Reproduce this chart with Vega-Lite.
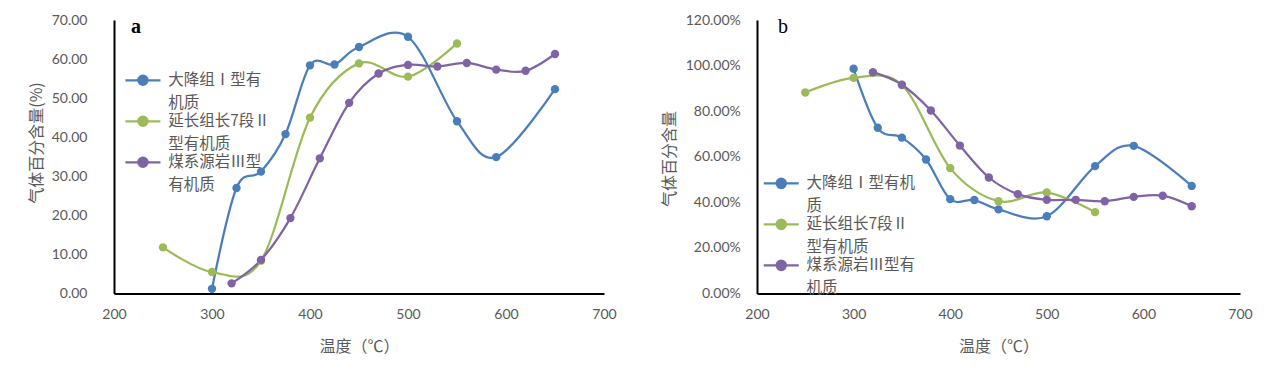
{
  "$schema": "https://vega.github.io/schema/vega-lite/v6.json",
  "background": "white",
  "padding": {"left": 27, "top": 13, "right": 5, "bottom": 5},
  "spacing": 153,
  "bounds": "flush",
  "config": {
    "view": {"stroke": null},
    "font": "Lato",
    "axis": {
      "grid": false,
      "domain": true,
      "ticks": true,
      "tickSize": 0,
      "labelFlush": false,
      "labelOverlap": false,
      "domainColor": "#000000",
      "domainWidth": 2,
      "tickColor": "#000000",
      "tickWidth": 1.5,
      "labelColor": "#595959",
      "labelFont": "Lato",
      "labelFontSize": 14,
      "titleColor": "#595959",
      "titleFont": "Noto Sans CJK SC",
      "titleFontSize": 16,
      "titleFontWeight": "normal"
    },
    "legend": {
      "orient": "none",
      "padding": 0,
      "symbolType": "M-3.5,0L3.5,0M0.93,0A0.93,0.93,0,1,1,-0.93,0A0.93,0.93,0,1,1,0.93,0Z",
      "symbolSize": 100,
      "symbolStrokeWidth": 2.25,
      "labelFont": "Noto Sans CJK SC",
      "labelFontSize": 15.5,
      "labelColor": "#595959",
      "labelOffset": 17.5,
      "rowPadding": 0
    }
  },
  "datasets": {
    "a": [
      {"T": 300, "v": 1.2, "s": "大降组Ⅰ型有机质"},
      {"T": 325, "v": 27.0, "s": "大降组Ⅰ型有机质"},
      {"T": 350, "v": 31.2, "s": "大降组Ⅰ型有机质"},
      {"T": 375, "v": 40.8, "s": "大降组Ⅰ型有机质"},
      {"T": 400, "v": 58.4, "s": "大降组Ⅰ型有机质"},
      {"T": 425, "v": 58.6, "s": "大降组Ⅰ型有机质"},
      {"T": 450, "v": 63.1, "s": "大降组Ⅰ型有机质"},
      {"T": 500, "v": 65.7, "s": "大降组Ⅰ型有机质"},
      {"T": 550, "v": 44.1, "s": "大降组Ⅰ型有机质"},
      {"T": 590, "v": 34.9, "s": "大降组Ⅰ型有机质"},
      {"T": 650, "v": 52.3, "s": "大降组Ⅰ型有机质"},
      {"T": 250, "v": 11.8, "s": "延长组长7段Ⅱ型有机质"},
      {"T": 300, "v": 5.5, "s": "延长组长7段Ⅱ型有机质"},
      {"T": 350, "v": 8.4, "s": "延长组长7段Ⅱ型有机质"},
      {"T": 400, "v": 45.0, "s": "延长组长7段Ⅱ型有机质"},
      {"T": 450, "v": 58.9, "s": "延长组长7段Ⅱ型有机质"},
      {"T": 500, "v": 55.5, "s": "延长组长7段Ⅱ型有机质"},
      {"T": 550, "v": 64.0, "s": "延长组长7段Ⅱ型有机质"},
      {"T": 320, "v": 2.6, "s": "煤系源岩Ⅲ型有机质"},
      {"T": 350, "v": 8.6, "s": "煤系源岩Ⅲ型有机质"},
      {"T": 380, "v": 19.3, "s": "煤系源岩Ⅲ型有机质"},
      {"T": 410, "v": 34.6, "s": "煤系源岩Ⅲ型有机质"},
      {"T": 440, "v": 48.8, "s": "煤系源岩Ⅲ型有机质"},
      {"T": 470, "v": 56.3, "s": "煤系源岩Ⅲ型有机质"},
      {"T": 500, "v": 58.5, "s": "煤系源岩Ⅲ型有机质"},
      {"T": 530, "v": 58.1, "s": "煤系源岩Ⅲ型有机质"},
      {"T": 560, "v": 59.0, "s": "煤系源岩Ⅲ型有机质"},
      {"T": 590, "v": 57.3, "s": "煤系源岩Ⅲ型有机质"},
      {"T": 620, "v": 57.0, "s": "煤系源岩Ⅲ型有机质"},
      {"T": 650, "v": 61.3, "s": "煤系源岩Ⅲ型有机质"}
    ],
    "b": [
      {"T": 300, "v": 0.986, "s": "大降组Ⅰ型有机质"},
      {"T": 325, "v": 0.727, "s": "大降组Ⅰ型有机质"},
      {"T": 350, "v": 0.684, "s": "大降组Ⅰ型有机质"},
      {"T": 375, "v": 0.588, "s": "大降组Ⅰ型有机质"},
      {"T": 400, "v": 0.414, "s": "大降组Ⅰ型有机质"},
      {"T": 425, "v": 0.410, "s": "大降组Ⅰ型有机质"},
      {"T": 450, "v": 0.369, "s": "大降组Ⅰ型有机质"},
      {"T": 500, "v": 0.339, "s": "大降组Ⅰ型有机质"},
      {"T": 550, "v": 0.559, "s": "大降组Ⅰ型有机质"},
      {"T": 590, "v": 0.648, "s": "大降组Ⅰ型有机质"},
      {"T": 650, "v": 0.472, "s": "大降组Ⅰ型有机质"},
      {"T": 250, "v": 0.882, "s": "延长组长7段Ⅱ型有机质"},
      {"T": 300, "v": 0.946, "s": "延长组长7段Ⅱ型有机质"},
      {"T": 350, "v": 0.915, "s": "延长组长7段Ⅱ型有机质"},
      {"T": 400, "v": 0.550, "s": "延长组长7段Ⅱ型有机质"},
      {"T": 450, "v": 0.405, "s": "延长组长7段Ⅱ型有机质"},
      {"T": 500, "v": 0.443, "s": "延长组长7段Ⅱ型有机质"},
      {"T": 550, "v": 0.357, "s": "延长组长7段Ⅱ型有机质"},
      {"T": 320, "v": 0.971, "s": "煤系源岩Ⅲ型有机质"},
      {"T": 350, "v": 0.916, "s": "煤系源岩Ⅲ型有机质"},
      {"T": 380, "v": 0.803, "s": "煤系源岩Ⅲ型有机质"},
      {"T": 410, "v": 0.649, "s": "煤系源岩Ⅲ型有机质"},
      {"T": 440, "v": 0.509, "s": "煤系源岩Ⅲ型有机质"},
      {"T": 470, "v": 0.436, "s": "煤系源岩Ⅲ型有机质"},
      {"T": 500, "v": 0.411, "s": "煤系源岩Ⅲ型有机质"},
      {"T": 530, "v": 0.411, "s": "煤系源岩Ⅲ型有机质"},
      {"T": 560, "v": 0.405, "s": "煤系源岩Ⅲ型有机质"},
      {"T": 590, "v": 0.424, "s": "煤系源岩Ⅲ型有机质"},
      {"T": 620, "v": 0.429, "s": "煤系源岩Ⅲ型有机质"},
      {"T": 650, "v": 0.383, "s": "煤系源岩Ⅲ型有机质"}
    ]
  },
  "resolve": {
    "scale": {"color": "independent", "x": "independent", "y": "independent"},
    "legend": {"color": "independent"}
  },
  "hconcat": [
    {
      "width": 490,
      "height": 273.5,
      "data": {"name": "a"},
      "title": {"text": "a", "anchor": "start", "frame": "group", "offset": -23.5, "dx": 17, "font": "Liberation Serif", "fontSize": 20, "fontWeight": "bold", "color": "#000000"},
      "mark": {"type": "line", "interpolate": "cardinal", "strokeWidth": 2.25, "point": {"filled": true, "size": 70, "opacity": 1}},
      "encoding": {
        "x": {
          "field": "T", "type": "quantitative",
          "scale": {"domain": [200, 700], "nice": false, "zero": false},
          "axis": {"values": [200, 300, 400, 500, 600, 700], "labelPadding": 14, "title": "温度（℃）", "titleBaseline": "middle", "titleY": 52.5,
                   "encode": {"ticks": {"update": {"y2": {"value": -5}}}}}
        },
        "y": {
          "field": "v", "type": "quantitative",
          "scale": {"domain": [0, 70], "nice": false},
          "axis": {"values": [0, 10, 20, 30, 40, 50, 60, 70], "format": ".2f", "labelPadding": 27, "title": "气体百分含量(%)", "titleAngle": -90, "titleBaseline": "middle", "titleAlign": "center", "titleX": -78, "titleY": 122.5,
                   "encode": {"ticks": {"update": {"x2": {"value": 5}}}}}
        },
        "color": {
          "field": "s", "type": "nominal",
          "scale": {"domain": ["大降组Ⅰ型有机质", "延长组长7段Ⅱ型有机质", "煤系源岩Ⅲ型有机质"], "range": ["#4A7EBB", "#9BBB59", "#7F63A5"]},
          "legend": {
            "title": null,
            "legendX": 21.2,
            "legendY": 52.5,
            "labelExpr": "datum.label == '大降组Ⅰ型有机质' ? ['大降组Ⅰ型有','机质'] : datum.label == '延长组长7段Ⅱ型有机质' ? ['延长组长7段Ⅱ','型有机质'] : ['煤系源岩Ⅲ型','有机质']",
            "encode": {
              "symbols": {"update": {
                "fill": {"signal": "datum.value == '大降组Ⅰ型有机质' ? '#4A7EBB' : datum.value == '延长组长7段Ⅱ型有机质' ? '#9BBB59' : '#7F63A5'"},
                "stroke": {"signal": "datum.value == '大降组Ⅰ型有机质' ? '#4A7EBB' : datum.value == '延长组长7段Ⅱ型有机质' ? '#9BBB59' : '#7F63A5'"},
                "strokeWidth": {"value": 2.25},
                "opacity": {"value": 1}
              }},
              "labels": {"update": {"lineHeight": {"value": 22.5}}}
            }
          }
        }
      }
    },
    {
      "width": 483,
      "height": 273.5,
      "data": {"name": "b"},
      "title": {"text": "b", "anchor": "start", "frame": "group", "offset": -23.5, "dx": 21, "font": "Liberation Serif", "fontSize": 20, "fontWeight": "normal", "color": "#000000"},
      "mark": {"type": "line", "interpolate": "cardinal", "strokeWidth": 2.25, "point": {"filled": true, "size": 70, "opacity": 1}},
      "encoding": {
        "x": {
          "field": "T", "type": "quantitative",
          "scale": {"domain": [200, 700], "nice": false, "zero": false},
          "axis": {"values": [200, 300, 400, 500, 600, 700], "labelPadding": 14, "title": "温度（℃）", "titleBaseline": "middle", "titleY": 52.5,
                   "encode": {"ticks": {"update": {"y2": {"value": -5}}}}}
        },
        "y": {
          "field": "v", "type": "quantitative",
          "scale": {"domain": [0, 1.2], "nice": false},
          "axis": {"values": [0, 0.2, 0.4, 0.6, 0.8, 1.0, 1.2], "format": ".2%", "labelPadding": 16.7, "title": "气体百分含量", "titleAngle": -90, "titleBaseline": "middle", "titleAlign": "center", "titleX": -88, "titleY": 138.5,
                   "encode": {"ticks": {"update": {"x2": {"value": 5}}}}}
        },
        "color": {
          "field": "s", "type": "nominal",
          "scale": {"domain": ["大降组Ⅰ型有机质", "延长组长7段Ⅱ型有机质", "煤系源岩Ⅲ型有机质"], "range": ["#4A7EBB", "#9BBB59", "#7F63A5"]},
          "legend": {
            "title": null,
            "legendX": 16.5,
            "legendY": 155.6,
            "labelExpr": "datum.label == '大降组Ⅰ型有机质' ? ['大降组Ⅰ型有机','质'] : datum.label == '延长组长7段Ⅱ型有机质' ? ['延长组长7段Ⅱ','型有机质'] : ['煤系源岩Ⅲ型有','机质']",
            "encode": {
              "symbols": {"update": {
                "fill": {"signal": "datum.value == '大降组Ⅰ型有机质' ? '#4A7EBB' : datum.value == '延长组长7段Ⅱ型有机质' ? '#9BBB59' : '#7F63A5'"},
                "stroke": {"signal": "datum.value == '大降组Ⅰ型有机质' ? '#4A7EBB' : datum.value == '延长组长7段Ⅱ型有机质' ? '#9BBB59' : '#7F63A5'"},
                "strokeWidth": {"value": 2.25},
                "opacity": {"value": 1}
              }},
              "labels": {"update": {"lineHeight": {"value": 22.5}}}
            }
          }
        }
      }
    }
  ]
}
